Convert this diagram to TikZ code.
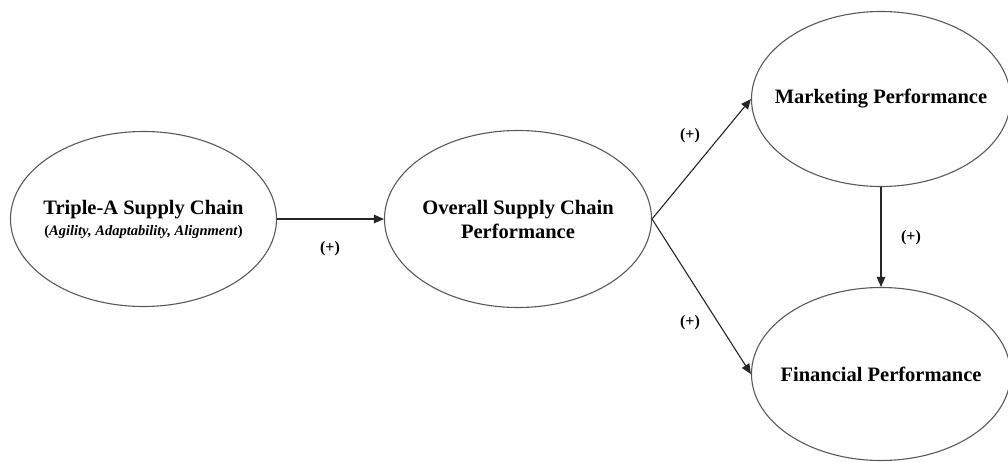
\documentclass[tikz,border=0pt]{standalone}
\usepackage{fontspec}
\setmainfont{Liberation Serif}
\usetikzlibrary{shapes.geometric,arrows.meta}
\begin{document}
\begin{tikzpicture}[x=1pt,y=-1pt,
  construct/.style={draw=black!65,line width=1.1pt,ellipse,inner xsep=-60pt,inner ysep=-10pt,
    minimum width=#1,align=center,font=\fontsize{20.5}{24}\selectfont\bfseries},
  link/.style={draw=black!85,line width=1.1pt,-{Triangle[length=10pt,width=8.5pt]}},
  sign/.style={font=\fontsize{16}{18}\selectfont\bfseries,inner sep=0pt}]
\useasboundingbox (0,0) rectangle (1008,462);
\node[construct=266pt,minimum height=175pt] (tri) at (143.5,219)
  {Triple-A Supply Chain\\[-3pt]{\fontsize{14.5}{17}\selectfont\bfseries(\itshape Agility, Adaptability, Alignment\/\upshape)}};
\node[construct=267pt,minimum height=177pt] (osc) at (518,219)
  {Overall Supply Chain\\Performance};
\node[construct=259pt,minimum height=175pt] (mkt) at (881,99)
  {Marketing Performance};
\node[construct=259pt,minimum height=173pt] (fin) at (881,374)
  {Financial Performance};
\draw[link] (tri.east) -- (osc.west);
\draw[link] (osc.east) -- (mkt.west);
\draw[link] (osc.east) -- (fin.west);
\draw[link] (mkt.south) -- (fin.north);
\node[sign] (s1) at (330,249) {(+)};
\node[sign] (s2) at (690,136) {(+)};
\node[sign] (s3) at (690,323) {(+)};
\node[sign] (s4) at (911,238) {(+)};
\end{tikzpicture}
\end{document}
